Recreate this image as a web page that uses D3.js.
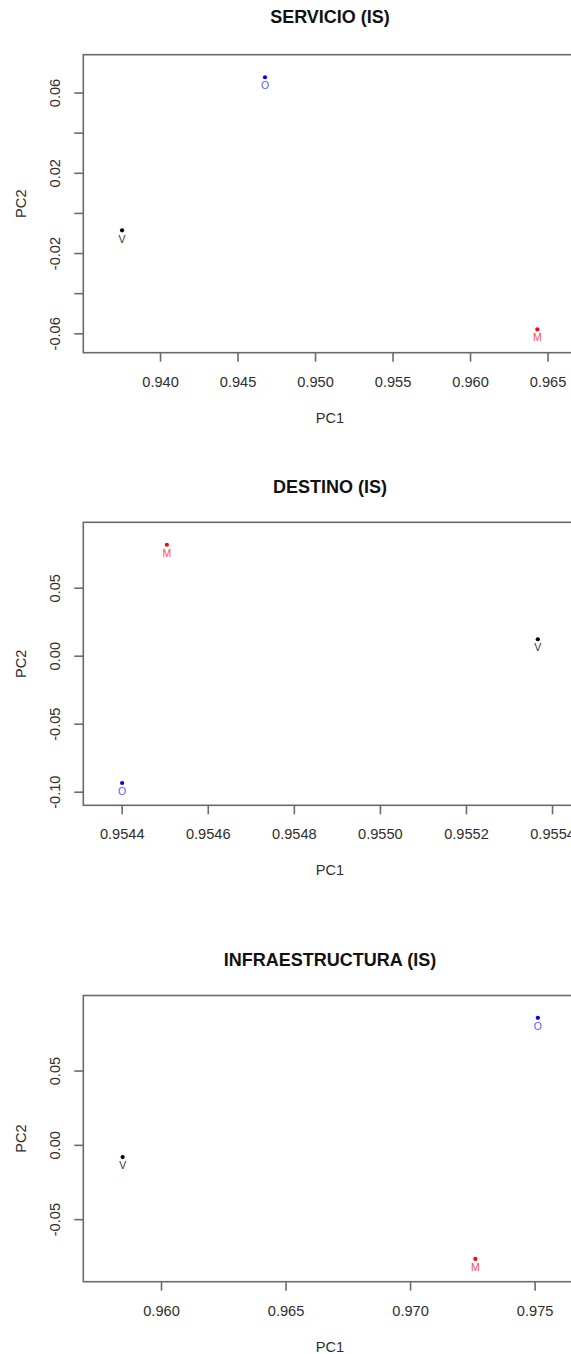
<!DOCTYPE html>
<html>
<head>
<meta charset="utf-8">
<script src="https://cdn.jsdelivr.net/npm/d3@7"></script>
<style>
  html, body { margin: 0; padding: 0; background: #fff; }
  svg { display: block; font-family: "Liberation Sans", Arial, sans-serif; }
</style>
</head>
<body>
<svg id="chart" width="571" height="1354"></svg>
<script>
// Group labels and their colours
const groups = ["V", "O", "M"];
const groupColors = ["#000000", "#0000ff", "#ff0000"];
const labelColors = ["#333333", "#5a5aff", "#ff4a4a"];

// SERVICIO (IS)
const servicioPC1 = [0.93755, 0.94677, 0.96434];
const servicioPC2 = [-0.0087, 0.0676, -0.0580];
const servicioXTicks = [0.940, 0.945, 0.950, 0.955, 0.960, 0.965];
const servicioYTicks = [-0.06, -0.04, -0.02, 0.00, 0.02, 0.04, 0.06];
const servicioYLabels = ["-0.06", "", "-0.02", "", "0.02", "", "0.06"];

// DESTINO (IS)
const destinoPC1 = [0.955367, 0.954401, 0.954505];
const destinoPC2 = [0.0121, -0.0936, 0.0816];
const destinoXTicks = [0.9544, 0.9546, 0.9548, 0.9550, 0.9552, 0.9554];
const destinoYTicks = [-0.10, -0.05, 0.00, 0.05];
const destinoYLabels = ["-0.10", "-0.05", "0.00", "0.05"];

// INFRAESTRUCTURA (IS)
const infraPC1 = [0.95846, 0.97513, 0.97262];
const infraPC2 = [-0.0082, 0.0855, -0.0768];
const infraXTicks = [0.960, 0.965, 0.970, 0.975];
const infraYTicks = [-0.05, 0.00, 0.05];
const infraYLabels = ["-0.05", "0.00", "0.05"];

const panels = [
  { title: "SERVICIO (IS)", pc1: servicioPC1, pc2: servicioPC2,
    xlim: [0.93505, 0.96688], ylim: [-0.06967, 0.07885],
    xTicks: servicioXTicks, xFmt: d3.format(".3f"),
    yTicks: servicioYTicks, yLabels: servicioYLabels,
    top: 54.7, bottom: 352.7, titleY: 17 },
  { title: "DESTINO (IS)", pc1: destinoPC1, pc2: destinoPC2,
    xlim: [0.9543108, 0.9554573], ylim: [-0.1100, 0.0981],
    xTicks: destinoXTicks, xFmt: d3.format(".4f"),
    yTicks: destinoYTicks, yLabels: destinoYLabels,
    top: 522.3, bottom: 805.3, titleY: 487 },
  { title: "INFRAESTRUCTURA (IS)", pc1: infraPC1, pc2: infraPC2,
    xlim: [0.95688, 0.97669], ylim: [-0.0921, 0.1005],
    xTicks: infraXTicks, xFmt: d3.format(".3f"),
    yTicks: infraYTicks, yLabels: infraYLabels,
    top: 995.5, bottom: 1281.7, titleY: 960 }
];

const svg = d3.select("#chart");
const left = 83.3, right = 576.7;
const axisColor = "#6a6a6a";
const textColor = "#2e2e2e";
const tickFont = 14.6;

panels.forEach(p => {
  const g = svg.append("g");
  const x = d3.scaleLinear().domain(p.xlim).range([left, right]);
  const y = d3.scaleLinear().domain(p.ylim).range([p.bottom, p.top]);

  // Title
  g.append("text")
    .attr("x", (left + right) / 2).attr("y", p.titleY)
    .attr("dy", "0.35em").attr("text-anchor", "middle")
    .attr("font-size", 18).attr("font-weight", "bold").attr("fill", "#111")
    .text(p.title);

  // Bottom axis
  const xAxis = g.append("g")
    .attr("transform", `translate(0,${p.bottom})`)
    .call(d3.axisBottom(x).tickValues(p.xTicks).tickFormat(p.xFmt).tickSize(9));
  xAxis.select(".domain").remove();
  xAxis.selectAll(".tick line").attr("stroke", axisColor).attr("stroke-width", 1.6);
  xAxis.selectAll(".tick text")
    .attr("y", 29).attr("dy", "0.35em")
    .attr("font-size", tickFont).attr("font-family", "Liberation Sans, Arial, sans-serif")
    .attr("fill", textColor);

  // Left axis with vertical labels
  const yAxis = g.append("g")
    .attr("transform", `translate(${left},0)`)
    .call(d3.axisLeft(y).tickValues(p.yTicks)
      .tickFormat((d, i) => p.yLabels[i]).tickSize(9));
  yAxis.select(".domain").remove();
  yAxis.selectAll(".tick line").attr("stroke", axisColor).attr("stroke-width", 1.6);
  yAxis.selectAll(".tick text")
    .attr("transform", "rotate(-90)")
    .attr("x", 0).attr("y", -28).attr("dy", "0.35em")
    .attr("text-anchor", "middle")
    .attr("font-size", tickFont).attr("font-family", "Liberation Sans, Arial, sans-serif")
    .attr("fill", textColor);

  // Plot box
  g.append("rect")
    .attr("x", left).attr("y", p.top)
    .attr("width", right - left).attr("height", p.bottom - p.top)
    .attr("fill", "none").attr("stroke", axisColor).attr("stroke-width", 1.6);

  // Axis titles
  g.append("text")
    .attr("x", (left + right) / 2).attr("y", p.bottom + 65)
    .attr("dy", "0.35em").attr("text-anchor", "middle")
    .attr("font-size", tickFont).attr("fill", textColor)
    .text("PC1");
  g.append("text")
    .attr("transform", `translate(20.5,${(p.top + p.bottom) / 2}) rotate(-90)`)
    .attr("dy", "0.35em").attr("text-anchor", "middle")
    .attr("font-size", tickFont).attr("fill", textColor)
    .text("PC2");

  // Points and their labels
  const pts = groups.map((name, i) => ({ name, i, px: p.pc1[i], py: p.pc2[i] }));
  g.selectAll("circle.pt").data(pts).join("circle")
    .attr("class", "pt")
    .attr("cx", d => x(d.px)).attr("cy", d => y(d.py))
    .attr("r", 2.1).attr("fill", d => groupColors[d.i]);
  g.selectAll("text.lab").data(pts).join("text")
    .attr("class", "lab")
    .attr("x", d => x(d.px)).attr("y", d => y(d.py) + 8.5)
    .attr("dy", "0.35em").attr("text-anchor", "middle")
    .attr("font-size", 10.5).attr("fill", d => labelColors[d.i])
    .text(d => d.name);
});
</script>
</body>
</html>
